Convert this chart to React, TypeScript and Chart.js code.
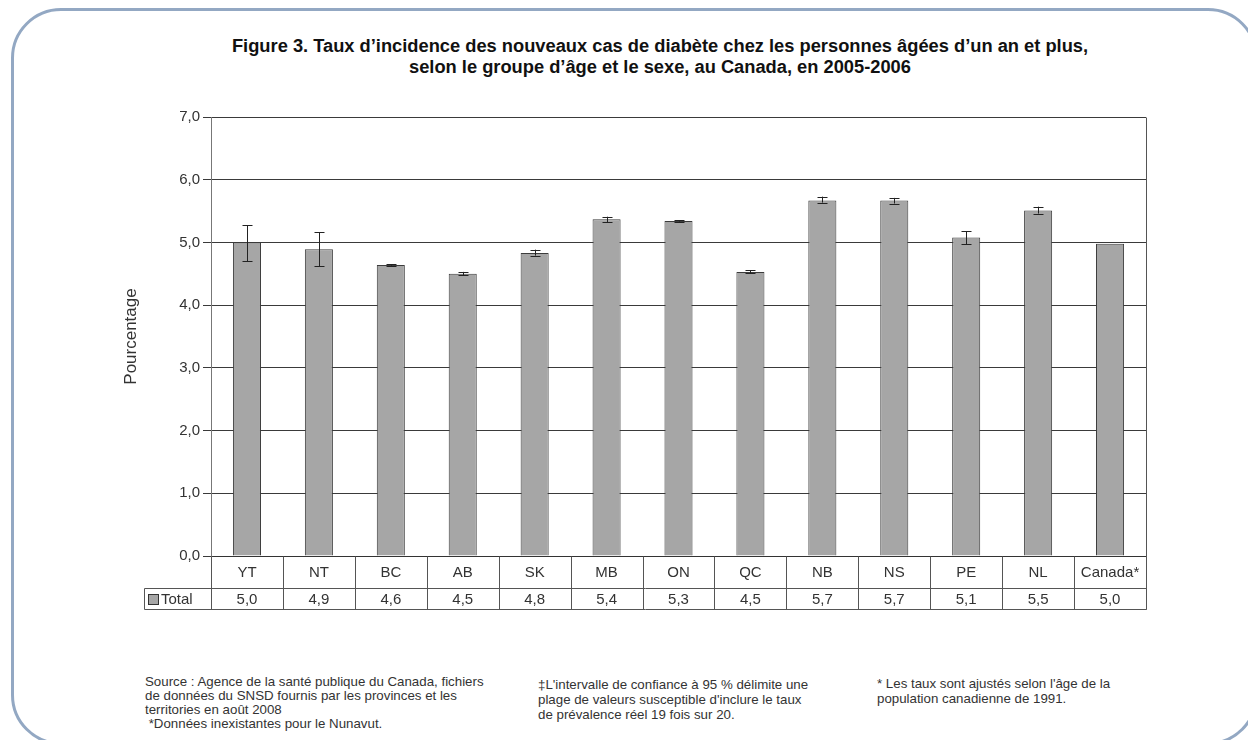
import React, { useEffect, useRef } from "react";
import { Chart, registerables } from "chart.js";

Chart.register(...registerables);

const categories = ["YT", "NT", "BC", "AB", "SK", "MB", "ON", "QC", "NB", "NS", "PE", "NL", "Canada*"];
const totals = [5.0, 4.89, 4.64, 4.5, 4.83, 5.37, 5.34, 4.53, 5.67, 5.67, 5.08, 5.51, 4.98];
const ciLow = [4.7, 4.62, 4.63, 4.48, 4.79, 5.32, 5.33, 4.51, 5.635, 5.62, 4.97, 5.46, 4.98];
const ciHigh = [5.27, 5.16, 4.65, 4.53, 4.885, 5.41, 5.35, 4.556, 5.73, 5.71, 5.18, 5.57, 4.98];
const seriesName = "Total";
const yMin = 0;
const yMax = 7;
const yStep = 1;

const titleLines = [
  "Figure 3. Taux d\u2019incidence des nouveaux cas de diab\u00e8te chez les personnes \u00e2g\u00e9es d\u2019un an et plus,",
  "selon le groupe d\u2019\u00e2ge et le sexe, au Canada, en 2005-2006",
];
const note1 = [
  "Source : Agence de la sant\u00e9 publique du Canada, fichiers",
  "de donn\u00e9es du SNSD fournis par les provinces et les",
  "territories en ao\u00fbt 2008",
  " *Donn\u00e9es inexistantes pour le Nunavut.",
];
const note2 = [
  "\u2021L'intervalle de confiance \u00e0 95 % d\u00e9limite une",
  "plage de valeurs susceptible d'inclure le taux",
  "de pr\u00e9valence r\u00e9el 19 fois sur 20.",
];
const note3 = ["* Les taux sont ajust\u00e9s selon l'\u00e2ge de la", "population canadienne de 1991."];

const FONT = "'Liberation Sans', Arial, sans-serif";
const TEXT = "#333333";
const BAR = "#a6a6a6";

const fmt = (v: number) => v.toFixed(1).replace(".", ",");

const tablePlugin = {
  id: "tableAndErrors",
  afterDatasetsDraw(chart: any) {
    const { ctx, scales } = chart;
    const x = scales.x;
    const y = scales.y;
    ctx.save();
    ctx.strokeStyle = "#222222";
    ctx.lineWidth = 1;
    for (let i = 0; i < categories.length; i++) {
      const lo = ciLow[i];
      const hi = ciHigh[i];
      if (hi - lo < 0.001) continue;
      const px = Math.round(x.getPixelForValue(i)) + 0.5;
      const yl = y.getPixelForValue(lo);
      const yh = y.getPixelForValue(hi);
      ctx.beginPath();
      ctx.moveTo(px, yl);
      ctx.lineTo(px, yh);
      ctx.moveTo(px - 5, Math.round(yl) + 0.5);
      ctx.lineTo(px + 5, Math.round(yl) + 0.5);
      ctx.moveTo(px - 5, Math.round(yh) + 0.5);
      ctx.lineTo(px + 5, Math.round(yh) + 0.5);
      ctx.stroke();
    }
    ctx.restore();
  },
  afterDraw(chart: any) {
    const { ctx, chartArea, scales } = chart;
    const x = scales.x;
    const { left, right, top, bottom } = chartArea;
    const r1 = bottom + 32;
    const r2 = bottom + 53;
    const legendLeft = left - 67;
    const h = (v: number) => Math.round(v) + 0.5;
    ctx.save();
    ctx.strokeStyle = "#555555";
    ctx.lineWidth = 1;
    ctx.beginPath();
    ctx.moveTo(h(legendLeft), h(r1));
    ctx.lineTo(h(right), h(r1));
    ctx.moveTo(h(legendLeft), h(r2));
    ctx.lineTo(h(right), h(r2));
    ctx.moveTo(h(legendLeft), h(r1));
    ctx.lineTo(h(legendLeft), h(r2));
    for (let i = 0; i <= categories.length; i++) {
      const bx = h(x.getPixelForValue(i - 0.5));
      ctx.moveTo(bx, h(bottom));
      ctx.lineTo(bx, h(r2));
    }
    ctx.moveTo(h(right), h(top));
    ctx.lineTo(h(right), h(r2));
    ctx.stroke();

    // legend swatch
    ctx.fillStyle = BAR;
    ctx.fillRect(legendLeft + 4.5, r1 + 6.5, 10, 10);
    ctx.strokeStyle = "#333333";
    ctx.strokeRect(legendLeft + 4.5, r1 + 6.5, 10, 10);
    ctx.fillStyle = TEXT;
    ctx.font = `15px ${FONT}`;
    ctx.textBaseline = "middle";
    ctx.textAlign = "left";
    ctx.fillText(seriesName, legendLeft + 17, (r1 + r2) / 2 + 1);
    ctx.textAlign = "center";
    for (let i = 0; i < categories.length; i++) {
      ctx.fillText(fmt(totals[i]), x.getPixelForValue(i), (r1 + r2) / 2 + 1);
    }
    ctx.restore();
  },
};

export default function App() {
  const ref = useRef<HTMLCanvasElement | null>(null);
  useEffect(() => {
    if (!ref.current) return;
    const chart = new Chart(ref.current, {
      type: "bar",
      data: {
        labels: categories,
        datasets: [
          {
            label: seriesName,
            data: totals,
            backgroundColor: BAR,
            borderColor: "#3c3c3c",
            borderWidth: 1,
            borderSkipped: "bottom",
            categoryPercentage: 1,
            barPercentage: 0.39,
          },
        ],
      },
      options: {
        animation: false,
        responsive: false,
        devicePixelRatio: 1,
        layout: { padding: { top: 17, right: 14, left: 0, bottom: 0 } },
        plugins: { legend: { display: false }, tooltip: { enabled: false }, title: { display: false } },
        scales: {
          x: {
            offset: true,
            grid: { display: false },
            border: { display: true, color: "#333333" },
            ticks: {
              color: TEXT,
              font: { family: FONT, size: 15 },
              padding: 0,
              autoSkip: false,
              maxRotation: 0,
              minRotation: 0,
            },
            afterFit: (s: any) => {
              s.height = 64;
            },
          },
          y: {
            min: yMin,
            max: yMax,
            ticks: {
              stepSize: yStep,
              color: TEXT,
              font: { family: FONT, size: 15 },
              padding: 3,
              callback: (v: any) => fmt(Number(v)),
            },
            grid: { color: "#3a3a3a", lineWidth: 1, tickLength: 8, drawTicks: true },
            border: { display: true, color: "#777777" },
            title: {
              display: true,
              text: "Pourcentage",
              color: TEXT,
              font: { family: FONT, size: 17 },
              padding: { top: 11, bottom: 0 },
            },
            afterFit: (s: any) => {
              s.width = 101;
            },
          },
        },
      },
      plugins: [tablePlugin],
    });
    return () => chart.destroy();
  }, []);

  const noteStyle: React.CSSProperties = {
    position: "absolute",
    fontFamily: FONT,
    fontSize: 13.3,
    lineHeight: "14px",
    color: TEXT,
    whiteSpace: "pre",
  };

  return (
    <div style={{ position: "absolute", left: 0, top: 0, width: 1248, height: 740, overflow: "hidden", background: "#fff" }}>
      <div
        style={{
          position: "absolute",
          left: 11,
          top: 8,
          width: 1247,
          height: 737,
          border: "3px solid #93a8c3",
          borderRadius: 50,
          boxSizing: "border-box",
        }}
      />
      <div
        style={{
          position: "absolute",
          left: 160,
          width: 1000,
          top: 35,
          textAlign: "center",
          fontFamily: FONT,
          fontWeight: "bold",
          fontSize: 18.3,
          lineHeight: "21px",
          color: "#111",
        }}
      >
        {titleLines.map((t, i) => (
          <div key={i}>{t}</div>
        ))}
      </div>
      <canvas ref={ref} width={1050} height={520} style={{ position: "absolute", left: 110, top: 100 }} />
      <div style={{ ...noteStyle, left: 145, top: 675 }}>
        {note1.map((t, i) => (
          <div key={i}>{t}</div>
        ))}
      </div>
      <div style={{ ...noteStyle, left: 538, top: 677, lineHeight: "15px" }}>
        {note2.map((t, i) => (
          <div key={i}>{t}</div>
        ))}
      </div>
      <div style={{ ...noteStyle, left: 877, top: 676, lineHeight: "15px" }}>
        {note3.map((t, i) => (
          <div key={i}>{t}</div>
        ))}
      </div>
    </div>
  );
}
